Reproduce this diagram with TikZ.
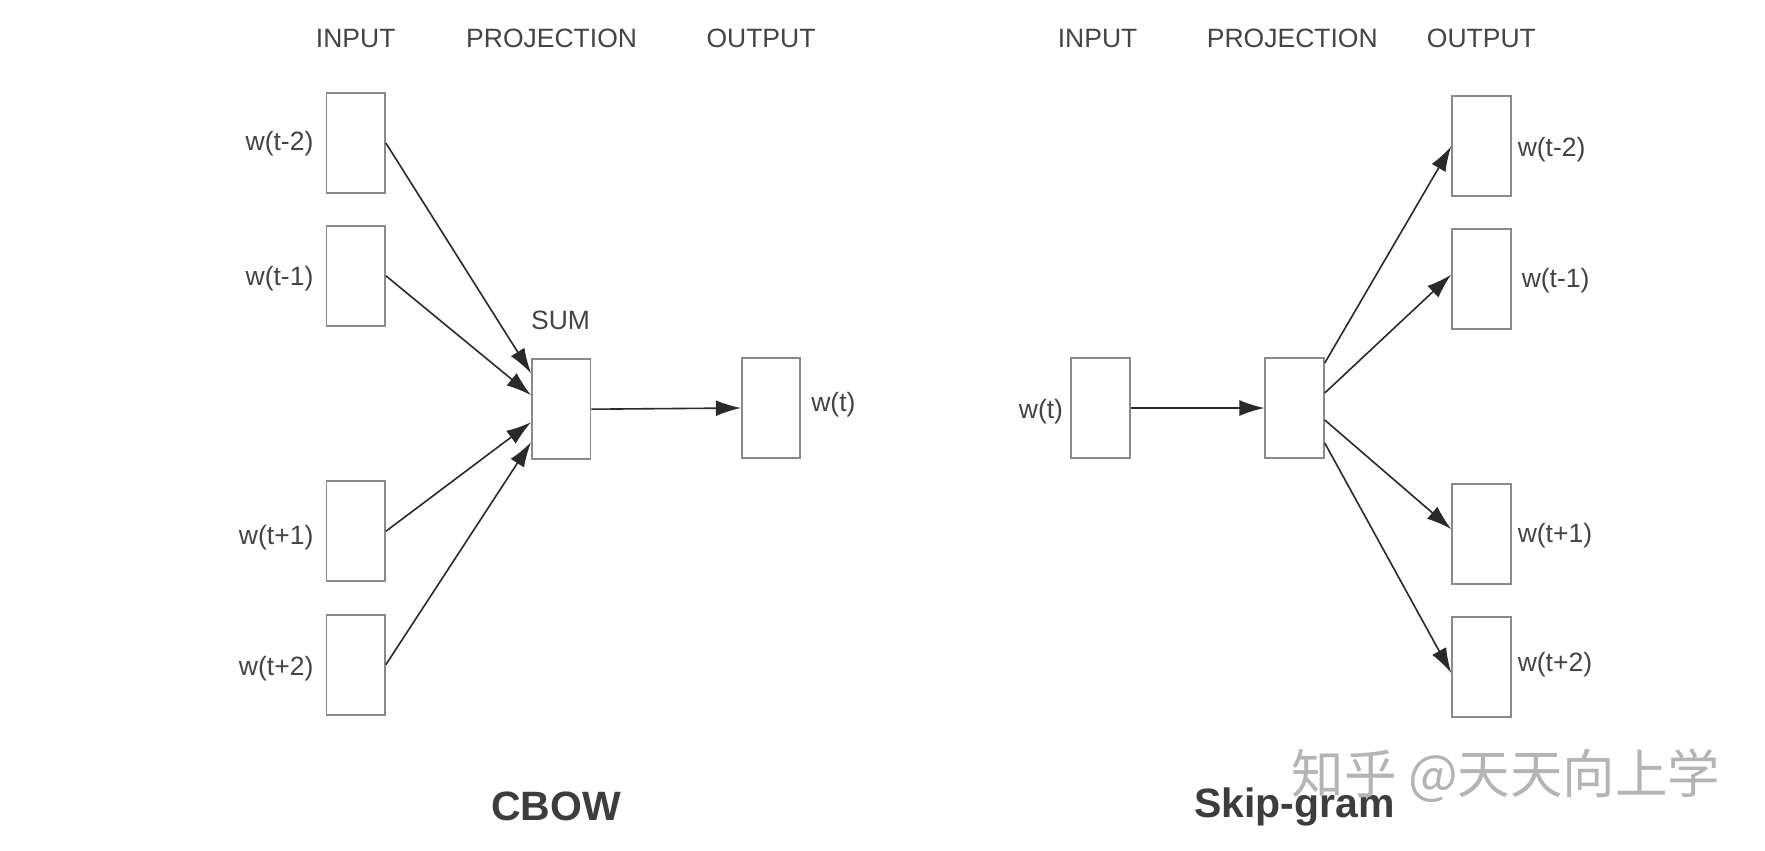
\documentclass[tikz,border=0pt]{standalone}
\usepackage{fontspec}
\setmainfont{Liberation Sans}
\newfontfamily\cjkfont{Noto Sans CJK SC}
\usetikzlibrary{arrows.meta,calc,positioning}
\definecolor{txt}{HTML}{444444}
\definecolor{boxc}{HTML}{8A8A8A}
\definecolor{arr}{HTML}{2A2A2A}
\definecolor{wm}{HTML}{B4B4B4}
\tikzset{
  vec/.style={draw=boxc, line width=1.8pt, minimum width=58.5pt, minimum height=100pt, inner sep=0pt, fill=white},
  hdr/.style={font=\fontsize{26.5}{30}\selectfont, text=txt, inner sep=0pt},
  lbl/.style={font=\fontsize{26.5}{30}\selectfont, text=txt, inner sep=0pt},
  ttl/.style={font=\fontsize{41}{46}\selectfont\bfseries, text=txt!90!black, inner sep=0pt},
  conn/.style={draw=arr, line width=1.6pt, -{Latex[length=25pt,width=16pt]}}
}
\begin{document}
\begin{tikzpicture}[x=1pt,y=-1pt]
\useasboundingbox[fill=white] (0,0) rectangle (1765,851);
% headers
\node[hdr] (h1) at (355.7,38.3) {INPUT};
\node[hdr] (h2) at (551.6,38.3) {PROJECTION};
\node[hdr] (h3) at (761,38.3) {OUTPUT};
\node[hdr] (h4) at (1097.6,38.3) {INPUT};
\node[hdr] (h5) at (1292.3,38.3) {PROJECTION};
\node[hdr] (h6) at (1481.4,38.3) {OUTPUT};
% CBOW
\node[vec] (i1) at (355.7,143) {};
\node[vec] (i2) at (355.7,275.8) {};
\node[vec] (i3) at (355.7,531.3) {};
\node[vec] (i4) at (355.7,664.7) {};
\node[lbl, anchor=east] (li1) at ($(i1.west)+(-12,1)$) {w(t-2)};
\node[lbl, anchor=east] (li2) at ($(i2.west)+(-12,3)$) {w(t-1)};
\node[lbl, anchor=east] (li3) at ($(i3.west)+(-12,6)$) {w(t+1)};
\node[lbl, anchor=east] (li4) at ($(i4.west)+(-12,4)$) {w(t+2)};
\node[vec] (sum) at (561.2,409.2) {};
\node[hdr] (sumlbl) at (560.6,320.8) {SUM};
\node[vec] (out) at (771,408) {};
\node[lbl, anchor=west] (lout) at ($(out.east)+(10,-3)$) {w(t)};
\draw[conn] (i1.east) -- ($(sum.west)+(0,-36)$);
\draw[conn] (i2.east) -- ($(sum.west)+(0,-14)$);
\draw[conn] (i3.east) -- ($(sum.west)+(0,13)$);
\draw[conn] (i4.east) -- ($(sum.west)+(0,33)$);
\draw[conn] (sum.east) -- (out.west);
\node[ttl] (cbow) at (556,806) {CBOW};
% Skip-gram
\node[vec] (sin) at (1100.4,408) {};
\node[lbl, anchor=east] (lsin) at ($(sin.west)+(-7,4)$) {w(t)};
\node[vec] (proj) at (1294.6,408) {};
\node[vec] (o1) at (1481.4,146.3) {};
\node[vec] (o2) at (1481.4,278.6) {};
\node[vec] (o3) at (1481.4,534.1) {};
\node[vec] (o4) at (1481.4,667) {};
\node[lbl, anchor=west] (lo1) at ($(o1.east)+(6,3)$) {w(t-2)};
\node[lbl, anchor=west] (lo2) at ($(o2.east)+(10,2)$) {w(t-1)};
\node[lbl, anchor=west] (lo3) at ($(o3.east)+(6,2)$) {w(t+1)};
\node[lbl, anchor=west] (lo4) at ($(o4.east)+(6,-2)$) {w(t+2)};
\draw[conn] (sin.east) -- (proj.west);
\draw[conn] ($(proj.east)+(0,-45)$) -- (o1.west);
\draw[conn] ($(proj.east)+(0,-15)$) -- ($(o2.west)+(0,-4)$);
\draw[conn] ($(proj.east)+(0,12)$) -- ($(o3.west)+(0,-5)$);
\draw[conn] ($(proj.east)+(0,35)$) -- ($(o4.west)+(0,6)$);
\node[ttl] (skip) at (1294.5,807) {Skip-gram};
% watermark
\node[font=\cjkfont\fontsize{52.5}{58}\selectfont, text=wm, inner sep=0pt] (wmark) at (1506,776) {知乎 @天天向上学};
\end{tikzpicture}
\end{document}
